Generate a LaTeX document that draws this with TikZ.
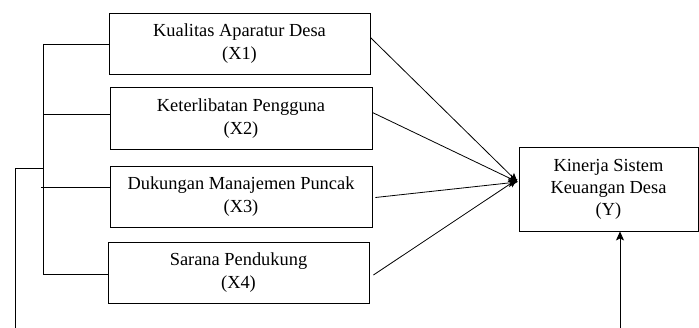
\documentclass[tikz,border=0pt]{standalone}
\usepackage{fontspec}
\setmainfont{Liberation Serif}
\usetikzlibrary{arrows.meta}

\tikzset{
  varbox/.style={draw=black, line width=0.9pt, rectangle, align=center, inner sep=0pt,
    minimum width=261pt, minimum height=61pt, font=\fontsize{18.4}{23}\selectfont},
  link/.style={draw=black, line width=0.8pt},
  arrow/.style={link, -{Stealth[length=9pt,width=8pt,inset=2pt]}}
}

\begin{document}
\begin{tikzpicture}[x=1pt, y=-1pt]
\pgfmathsetmacro{\xb}{43} % bracket line
\pgfmathsetmacro{\xf}{15} % outer feedback line
\pgfmathsetmacro{\yb}{328} % bottom edge

\useasboundingbox (0,0) rectangle (699,\yb); % border

% independent variables
\node[varbox] (X1) at (239.5,43.5) {Kualitas Aparatur Desa\\(X1)};
\node[varbox, minimum width=262pt, minimum height=62pt] (X2) at (241,118.5) {Keterlibatan Pengguna\\(X2)};
\node[varbox, minimum width=262pt] (X3) at (241,196.5) {Dukungan Manajemen Puncak\\(X3)};
\node[varbox] (X4) at (238.5,273) {Sarana Pendukung\\(X4)};

% dependent variable
\node[varbox, minimum width=179pt, minimum height=84pt, font=\fontsize{18.4}{22}\selectfont] (Y) at (608.5,189) {Kinerja Sistem\\Keuangan Desa\\(Y)};

\coordinate (meet) at ([xshift=-1pt, yshift=7pt]Y.west); % arrows meet here

\draw[arrow] ([yshift=6pt]X1.east) -- (meet);
\draw[arrow] ([yshift=6pt]X2.east) -- (meet);
\draw[arrow] ([xshift=3pt, yshift=-1pt]X3.east) -- (meet);
\draw[arrow] ([xshift=4pt, yshift=-2pt]X4.east) -- ([yshift=3pt]meet);

% bracket on the left
\coordinate (b1) at (\xb,44);
\coordinate (b4) at (\xb,274);
\draw[link] (b1) -- (b4);
\draw[link] (b1) -- (b1 -| X1.west);
\draw[link] (\xb,114) -- ([yshift=4.5pt]X2.west);
\draw[link] (\xb-2,187) -- ([yshift=9.5pt]X3.west);
\draw[link] (b4) -- (b4 -| X4.west);

% feedback line
\coordinate (f1) at (\xb,168);
\coordinate (f2) at (\xf,168);
\coordinate (f3) at (\xf,\yb);
\draw[link] (f1) -- (f2) -- (f3);

\coordinate (up) at (620,\yb);
\draw[arrow] (up) -- (up |- Y.south);

\end{tikzpicture}
\end{document}
